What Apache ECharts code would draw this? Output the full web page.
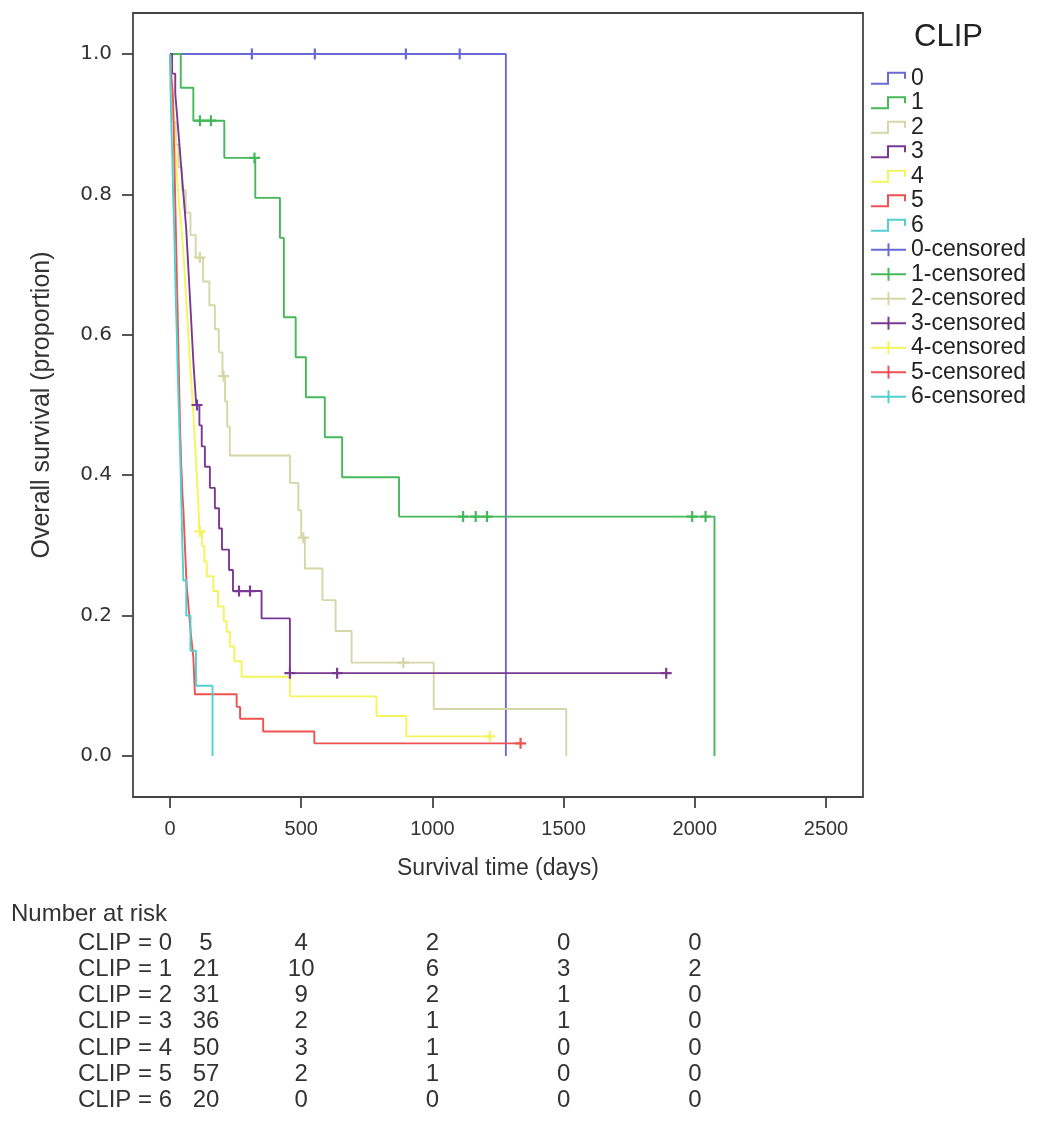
<!DOCTYPE html>
<html>
<head>
<meta charset="utf-8">
<script src="https://cdn.jsdelivr.net/npm/echarts@6/dist/echarts.min.js"></script>
<style>
html,body{margin:0;padding:0;background:#fff;}
#chart{width:1051px;height:1128px;}
</style>
</head>
<body>
<div id="chart"></div>
<script>
// ---------- DATA ----------
const groupNames = ['0', '1', '2', '3', '4', '5', '6'];
const censoredNames = ['0-censored', '1-censored', '2-censored', '3-censored', '4-censored', '5-censored', '6-censored'];

// Kaplan-Meier steps [day, survival after the step]
const clip0Steps = [[0,1],[1280,0]];
const clip1Steps = [[0,1],[41,0.952],[89,0.905],[207,0.852],[325,0.795],[419,0.738],[434,0.625],[479,0.568],[518,0.511],[590,0.454],[656,0.397],[873,0.341],[2075,0]];
const clip2Steps = [[0,1],[3,0.968],[8,0.935],[14,0.903],[22,0.871],[32,0.839],[45,0.806],[60,0.774],[78,0.742],[98,0.710],[126,0.676],[150,0.642],[171,0.608],[186,0.575],[200,0.541],[210,0.505],[218,0.469],[228,0.428],[457,0.389],[489,0.350],[500,0.311],[514,0.267],[581,0.222],[631,0.178],[692,0.133],[1005,0.067],[1510,0]];
const clip3Steps = [[0,1],[8,0.972],[20,0.944],[26,0.917],[32,0.889],[38,0.861],[44,0.833],[50,0.806],[56,0.778],[62,0.750],[66,0.722],[70,0.694],[74,0.667],[78,0.639],[82,0.611],[86,0.583],[90,0.556],[95,0.528],[100,0.500],[112,0.471],[121,0.441],[133,0.412],[152,0.382],[171,0.353],[187,0.324],[198,0.294],[225,0.265],[240,0.235],[349,0.196],[457,0.118],[1891,0.118]];
const clip4Steps = [[0,1],[3,0.98],[6,0.96],[9,0.94],[12,0.92],[15,0.90],[18,0.88],[21,0.86],[24,0.84],[28,0.82],[32,0.80],[36,0.78],[42,0.76],[46,0.74],[50,0.72],[54,0.70],[57,0.68],[60,0.66],[64,0.64],[67,0.62],[70,0.60],[73,0.58],[76,0.56],[80,0.54],[84,0.52],[87,0.50],[90,0.48],[93,0.46],[96,0.44],[99,0.42],[102,0.40],[105,0.38],[108,0.36],[110,0.34],[112,0.32],[122,0.299],[131,0.277],[140,0.256],[165,0.235],[183,0.213],[205,0.192],[216,0.177],[228,0.156],[245,0.135],[273,0.113],[457,0.085],[787,0.057],[901,0.028],[1219,0.028]];
const clip5Steps = [[0,1],[3,0.982],[6,0.965],[10,0.947],[12,0.930],[13,0.912],[14,0.895],[15,0.877],[16,0.860],[17,0.842],[18,0.825],[19,0.807],[20,0.789],[21,0.772],[22,0.754],[23,0.737],[24,0.719],[25,0.702],[26,0.684],[27,0.667],[28,0.649],[29,0.632],[30,0.614],[31,0.596],[32,0.579],[33,0.561],[34,0.544],[35,0.526],[36,0.509],[37,0.491],[38,0.474],[39,0.456],[41,0.439],[42,0.421],[44,0.404],[46,0.386],[48,0.368],[51,0.351],[53,0.333],[55,0.316],[57,0.298],[59,0.281],[61,0.263],[63,0.246],[67,0.228],[71,0.211],[75,0.193],[79,0.175],[84,0.158],[89,0.140],[91,0.123],[93,0.105],[95,0.088],[254,0.070],[267,0.053],[355,0.035],[550,0.018],[1336,0.018]];
const clip6Steps = [[0,1],[2,0.95],[5,0.90],[9,0.85],[12,0.80],[16,0.75],[19,0.70],[22,0.65],[26,0.60],[29,0.55],[33,0.50],[37,0.45],[41,0.40],[44,0.35],[47,0.30],[51,0.25],[62,0.20],[78,0.15],[99,0.10],[162,0]];

// censored observations [day, survival]
const clip0Censored = [[312,1],[552,1],[899,1],[1104,1]];
const clip1Censored = [[114,0.905],[156,0.905],[322,0.852],[1117,0.341],[1165,0.341],[1208,0.341],[1990,0.341],[2041,0.341]];
const clip2Censored = [[114,0.710],[204,0.541],[508,0.311],[889,0.133]];
const clip3Censored = [[103,0.500],[263,0.235],[305,0.235],[457,0.118],[637,0.118],[1891,0.118]];
const clip4Censored = [[114,0.32],[1219,0.028]];
const clip5Censored = [[1336,0.018]];
const clip6Censored = [];

// number at risk table
const riskTimes = [0, 500, 1000, 1500, 2000];
const riskLabels = ['CLIP = 0','CLIP = 1','CLIP = 2','CLIP = 3','CLIP = 4','CLIP = 5','CLIP = 6'];
const risk0 = [5, 4, 2, 0, 0];
const risk1 = [21, 10, 6, 3, 2];
const risk2 = [31, 9, 2, 1, 0];
const risk3 = [36, 2, 1, 1, 0];
const risk4 = [50, 3, 1, 0, 0];
const risk5 = [57, 2, 1, 0, 0];
const risk6 = [20, 0, 0, 0, 0];

const xTicks = [0, 500, 1000, 1500, 2000, 2500];
const yTicks = [0, 0.2, 0.4, 0.6, 0.8, 1.0];

// ---------- STYLE ----------
const colors = ['#6a6ad6', '#45b858', '#d6d6a6', '#7a3a92', '#f4f45c', '#f05252', '#52d0d0'];
const stepIcon = 'path://M0,11L16,11L16,0L35,0L35,7L33,7L33,2L18,2L18,13L0,13Z';
const censIcon = 'path://M0,5.5H16.5V0H18.5V5.5H35V7.5H18.5V13H16.5V7.5H0Z';
const plusSym = 'path://M4,0H6V4H10V6H6V10H4V6H0V4H4Z';
const txt = '#333';
const sans = 'Liberation Sans, Arial, sans-serif';

const allSteps = [clip0Steps, clip1Steps, clip2Steps, clip3Steps, clip4Steps, clip5Steps, clip6Steps];
const allCens = [clip0Censored, clip1Censored, clip2Censored, clip3Censored, clip4Censored, clip5Censored, clip6Censored];
const allRisk = [risk0, risk1, risk2, risk3, risk4, risk5, risk6];

const X_MIN = -141, X_MAX = 2641;

const series = [];
groupNames.forEach((n, i) => {
  series.push({
    name: n, type: 'line', step: 'end', data: allSteps[i],
    xAxisIndex: 0, yAxisIndex: 0,
    symbol: 'none', showSymbol: false,
    lineStyle: { color: colors[i], width: 1.9 },
    itemStyle: { color: colors[i] },
    z: 2 + i, silent: true
  });
});
censoredNames.forEach((n, i) => {
  series.push({
    name: n, type: 'scatter', data: allCens[i],
    xAxisIndex: 0, yAxisIndex: 0,
    symbol: plusSym, symbolSize: 11,
    itemStyle: { color: colors[i], opacity: 1 },
    z: 10 + i, silent: true
  });
});
// number at risk as a label-only scatter on a second grid
const riskData = [];
allRisk.forEach((row, r) => {
  row.forEach((v, c) => {
    const item = { value: [riskTimes[c], riskLabels[r], v] };
    if (c === 0) item.label = { offset: [36, 0] };
    riskData.push(item);
  });
});
series.push({
  name: 'risk', type: 'scatter', xAxisIndex: 1, yAxisIndex: 1,
  data: riskData, symbolSize: 0, silent: true,
  itemStyle: { opacity: 1 },
  label: { show: true, position: 'inside', formatter: p => String(p.value[2]),
           fontSize: 24, color: txt, fontFamily: sans, textBorderWidth: 0 }
});

const legendData = groupNames.map((n, i) => ({ name: n, icon: stepIcon, itemStyle: { color: colors[i] } }))
  .concat(censoredNames.map((n, i) => ({ name: n, icon: censIcon, itemStyle: { color: colors[i] } })));

const chart = echarts.init(document.getElementById('chart'), null, { renderer: 'canvas' });
chart.setOption({
  animation: false,
  backgroundColor: '#fff',
  title: {
    text: 'CLIP', left: 909, top: 17,
    textStyle: { fontSize: 31, fontWeight: 'normal', color: '#222', fontFamily: sans }
  },
  legend: {
    data: legendData, orient: 'vertical', left: 866, top: 61,
    itemWidth: 35, itemHeight: 13, itemGap: 0, symbolKeepAspect: false,
    textStyle: { fontSize: 23, lineHeight: 24.5, color: '#222', fontFamily: sans },
    selectedMode: false
  },
  grid: [
    { left: 133, top: 13, width: 730, height: 784, show: true, borderColor: '#444', borderWidth: 1.8, backgroundColor: 'transparent' },
    { left: 133, top: 930, width: 730, height: 183.4, show: false }
  ],
  xAxis: [
    {
      type: 'value', gridIndex: 0, min: X_MIN, max: X_MAX,
      axisLine: { show: false, onZero: false },
      axisTick: { show: true, customValues: xTicks, length: 11, lineStyle: { color: '#444', width: 1.8 } },
      axisLabel: { customValues: xTicks, fontSize: 20, color: txt, margin: 22, fontFamily: sans,
                   formatter: v => String(v) },
      splitLine: { show: false },
      name: 'Survival time (days)', nameLocation: 'middle', nameGap: 60,
      nameTextStyle: { fontSize: 23, color: txt, fontFamily: sans }
    },
    { type: 'value', gridIndex: 1, min: X_MIN, max: X_MAX, show: false }
  ],
  yAxis: [
    {
      type: 'value', gridIndex: 0, min: -0.0584, max: 1.0584,
      axisLine: { show: false, onZero: false },
      axisTick: { show: true, customValues: yTicks, length: 11, lineStyle: { color: '#444', width: 1.8 } },
      axisLabel: { customValues: yTicks, fontSize: 20, color: txt, margin: 21,
                   fontFamily: 'DejaVu Sans, sans-serif', formatter: v => v.toFixed(1) },
      splitLine: { show: false },
      name: 'Overall survival (proportion)', nameLocation: 'middle', nameGap: 78,
      nameTextStyle: { fontSize: 25, color: txt, fontFamily: sans }
    },
    {
      type: 'category', gridIndex: 1, data: riskLabels, inverse: true,
      axisLine: { show: false }, axisTick: { show: false }, splitLine: { show: false },
      axisLabel: { interval: 0, fontSize: 24, color: txt, margin: -39, fontFamily: sans }
    }
  ],
  graphic: [
    { type: 'text', left: 11, top: 902, style: { text: 'Number at risk', fontSize: 24, fill: txt, fontFamily: sans } }
  ],
  series: series
});
</script>
</body>
</html>
